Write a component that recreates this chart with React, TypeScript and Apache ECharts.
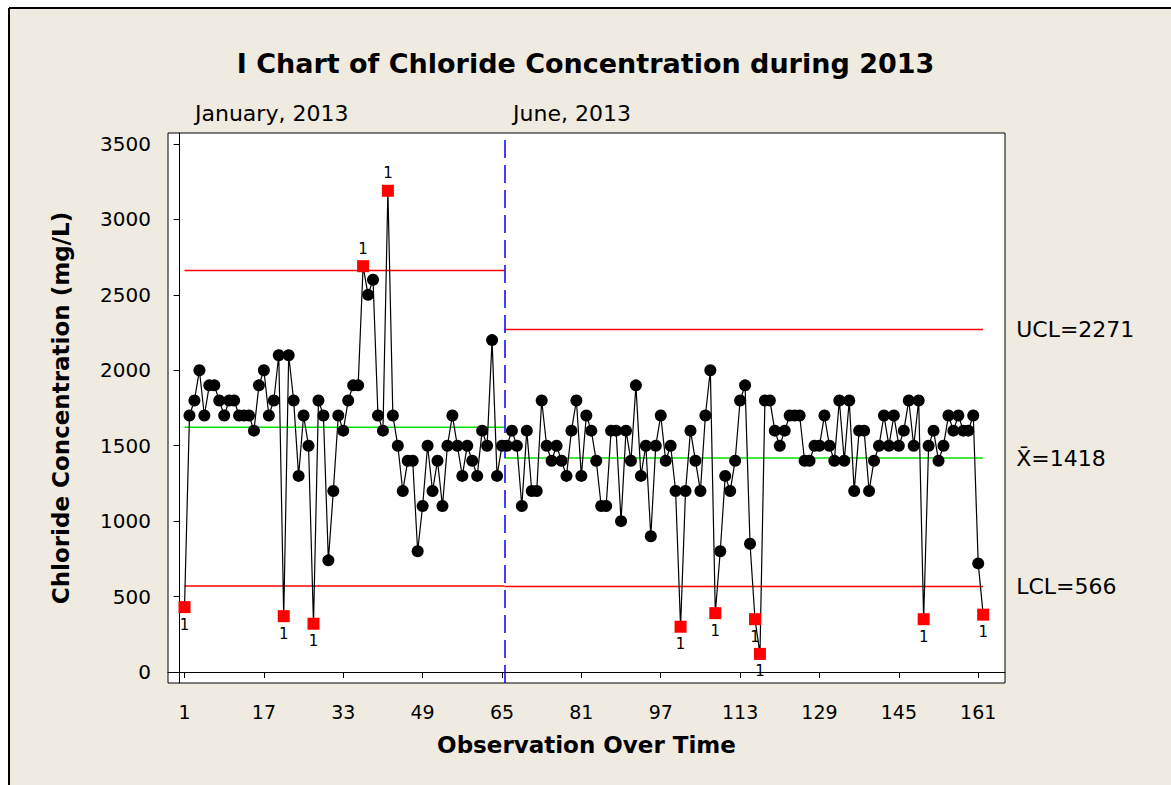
import React, { useEffect, useRef } from 'react';
import * as echarts from 'echarts';

// Chloride concentration (mg/L), observations 1..162
const chloride: number[] = [
  430, 1700, 1800, 2000, 1700, 1900, 1900, 1800, 1700, 1800,
  1800, 1700, 1700, 1700, 1600, 1900, 2000, 1700, 1800, 2100,
  370, 2100, 1800, 1300, 1700, 1500, 320, 1800, 1700, 740,
  1200, 1700, 1600, 1800, 1900, 1900, 2690, 2500, 2600, 1700,
  1600, 3190, 1700, 1500, 1200, 1400, 1400, 800, 1100, 1500,
  1200, 1400, 1100, 1500, 1700, 1500, 1300, 1500, 1400, 1300,
  1600, 1500, 2200, 1300, 1500,
  // stage 2 (June 2013 onwards), obs 66..162
  1500, 1600, 1500, 1100, 1600, 1200, 1200, 1800, 1500, 1400,
  1500, 1400, 1300, 1600, 1800, 1300, 1700, 1600, 1400, 1100,
  1100, 1600, 1600, 1000, 1600, 1400, 1900, 1300, 1500, 900,
  1500, 1700, 1400, 1500, 1200, 300, 1200, 1600, 1400, 1200,
  1700, 2000, 390, 800, 1300, 1200, 1400, 1800, 1900, 850,
  350, 120, 1800, 1800, 1600, 1500, 1600, 1700, 1700, 1700,
  1400, 1400, 1500, 1500, 1700, 1500, 1400, 1800, 1400, 1800,
  1200, 1600, 1600, 1200, 1400, 1500, 1700, 1500, 1700, 1500,
  1600, 1800, 1500, 1800, 350, 1500, 1600, 1400, 1500, 1700,
  1600, 1700, 1600, 1600, 1700, 720, 380,
];

const stage1Last = 65;
const stageBreak = 65.5;
const stage1Limits = { ucl: 2662, mean: 1622, lcl: 570 };
const stage2Limits = { ucl: 2271, mean: 1418, lcl: 566 };
const xTicks = [1, 17, 33, 49, 65, 81, 97, 113, 129, 145, 161];
const yTicks = [0, 500, 1000, 1500, 2000, 2500, 3000, 3500];
const stageNames = ['January, 2013', 'June, 2013'];
const limitLabels = ['UCL=2271', 'X\u0304=1418', 'LCL=566'];

const FONT = '"DejaVu Sans", Verdana, sans-serif';

export default function App() {
  const ref = useRef<HTMLDivElement>(null);

  useEffect(() => {
    if (!ref.current) return;
    const chart = echarts.init(ref.current, null, { renderer: 'svg' });
    const n = chloride.length;

    const points = chloride.map((v, i) => {
      const obs = i + 1;
      const lim = obs <= stage1Last ? stage1Limits : stage2Limits;
      const out = v > lim.ucl || v < lim.lcl;
      if (!out) return { value: [obs, v] };
      return {
        value: [obs, v],
        symbol: 'rect',
        symbolSize: 12,
        itemStyle: { color: '#ff0000' },
        label: {
          show: true,
          formatter: '1',
          position: v > lim.mean ? 'top' : 'bottom',
          distance: 4,
          color: '#000',
          fontSize: 15,
          fontFamily: FONT,
        },
      };
    });

    const seg = (name: string, x0: number, x1: number, y: number, color: string, extra: any = {}) => ({
      name,
      type: 'line',
      data: [[x0, y], [x1, y]],
      symbol: 'none',
      silent: true,
      lineStyle: { color, width: 1.5 },
      z: 3,
      ...extra,
    });

    const endLabel = (text: string) => ({
      endLabel: {
        show: true,
        formatter: text,
        distance: 33,
        color: '#000',
        fontSize: 22,
        fontFamily: FONT,
      },
    });

    chart.setOption({
      animation: false,
      backgroundColor: '#EFEBE1',
      title: {
        text: 'I Chart of Chloride Concentration during 2013',
        left: 'center',
        top: 45,
        textStyle: { fontFamily: FONT, fontSize: 27, fontWeight: 'bold', color: '#000' },
      },
      graphic: [
        { type: 'rect', shape: { x: 0, y: 0, width: 1171, height: 8 }, style: { fill: '#fff' }, silent: true },
        { type: 'rect', shape: { x: 0, y: 0, width: 9, height: 785 }, style: { fill: '#fff' }, silent: true },
        { type: 'line', shape: { x1: 9, y1: 8, x2: 1171, y2: 8 }, style: { stroke: '#000', lineWidth: 2 } },
        { type: 'line', shape: { x1: 9, y1: 8, x2: 9, y2: 785 }, style: { stroke: '#000', lineWidth: 2 } },
        {
          type: 'text', left: 195, top: 102,
          style: { text: stageNames[0], fontFamily: FONT, fontSize: 22, fill: '#000' },
        },
        {
          type: 'text', left: 513, top: 102,
          style: { text: stageNames[1], fontFamily: FONT, fontSize: 22, fill: '#000' },
        },
      ],
      grid: {
        left: 168, top: 133, width: 837, height: 550,
        show: true, backgroundColor: '#fff', borderColor: '#000', borderWidth: 1,
      },
      xAxis: {
        type: 'value',
        min: -2.33,
        max: 166.4,
        name: 'Observation Over Time',
        nameLocation: 'middle',
        nameGap: 50,
        nameTextStyle: { fontFamily: FONT, fontSize: 23, fontWeight: 'bold', color: '#000' },
        axisLine: { show: true, lineStyle: { color: '#000', width: 1 } },
        axisTick: { show: true, customValues: xTicks, length: 6, lineStyle: { color: '#000' } },
        axisLabel: {
          customValues: xTicks, fontFamily: FONT, fontSize: 19, color: '#000', margin: 19,
          formatter: (v: number) => String(v),
        },
        splitLine: { show: false },
      },
      yAxis: {
        type: 'value',
        min: -73,
        max: 3573,
        name: 'Chloride Concentration (mg/L)',
        nameLocation: 'middle',
        nameGap: 96,
        nameTextStyle: { fontFamily: FONT, fontSize: 23, fontWeight: 'bold', color: '#000' },
        axisLine: { show: true, lineStyle: { color: '#000', width: 1 } },
        axisTick: { show: true, customValues: yTicks, length: 6, lineStyle: { color: '#000' } },
        axisLabel: {
          customValues: yTicks, fontFamily: FONT, fontSize: 20, color: '#000', margin: 17,
          formatter: (v: number) => String(v),
        },
        splitLine: { show: false },
      },
      series: [
        seg('UCL1', 1, stageBreak, stage1Limits.ucl, '#ff0000'),
        seg('Mean1', 1, stageBreak, stage1Limits.mean, '#00e000'),
        seg('LCL1', 1, stageBreak, stage1Limits.lcl, '#ff0000'),
        seg('UCL2', stageBreak, n, stage2Limits.ucl, '#ff0000', endLabel(limitLabels[0])),
        seg('Mean2', stageBreak, n, stage2Limits.mean, '#00e000', endLabel(limitLabels[1])),
        seg('LCL2', stageBreak, n, stage2Limits.lcl, '#ff0000', {
          ...endLabel(limitLabels[2]),
          markLine: {
            silent: true,
            symbol: ['none', 'none'],
            label: { show: false },
            lineStyle: { color: '#0000ff', type: [18, 7], width: 1.5 },
            data: [{ xAxis: stageBreak }],
          },
        }),
        {
          name: 'Chloride',
          type: 'line',
          data: points,
          symbol: 'circle',
          symbolSize: 12,
          itemStyle: { color: '#000' },
          lineStyle: { color: '#000', width: 1.2 },
          z: 5,
        },
      ],
    });

    return () => chart.dispose();
  }, []);

  return (
    <div
      ref={ref}
      style={{ position: 'fixed', left: 0, top: 0, width: 1171, height: 785 }}
    />
  );
}
